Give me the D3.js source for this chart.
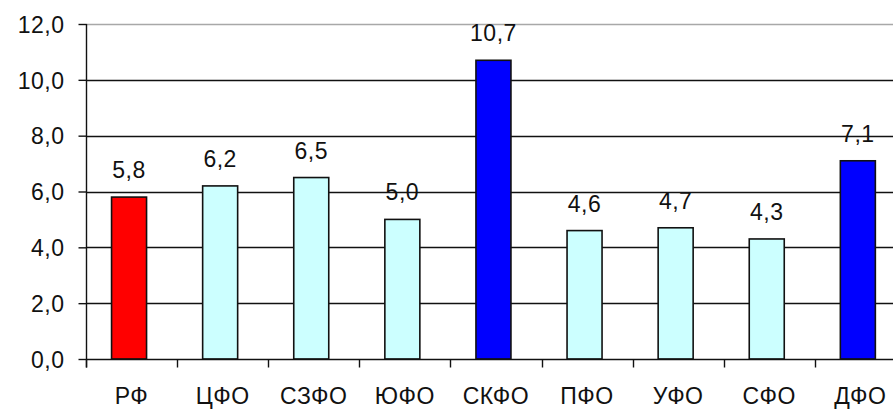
<!DOCTYPE html>
<html>
<head>
<meta charset="utf-8">
<script src="https://cdn.jsdelivr.net/npm/d3@7"></script>
<style>
  html, body { margin: 0; padding: 0; background: #fff; }
  svg { display: block; }
  text { font-family: "Liberation Sans", Arial, sans-serif; fill: #111; }
</style>
</head>
<body>
<script>
const categories = ["РФ", "ЦФО", "СЗФО", "ЮФО", "СКФО", "ПФО", "УФО", "СФО", "ДФО"];
const values = [5.8, 6.2, 6.5, 5.0, 10.7, 4.6, 4.7, 4.3, 7.1];
const barColors = ["#ff0000", "#ccffff", "#ccffff", "#ccffff", "#0000ff", "#ccffff", "#ccffff", "#ccffff", "#0000ff"];
const yTicks = [0, 2, 4, 6, 8, 10, 12];

const W = 893, H = 411;
const margin = { left: 86, top: 24, bottom: 52 };
const plotRight = 86 + 9 * 91.1;

const svg = d3.select("body").append("svg").attr("width", W).attr("height", H);

const x = d3.scaleBand().domain(categories).range([margin.left, plotRight]).padding(0);
const y = d3.scaleLinear().domain([0, 12]).range([H - margin.bottom, margin.top]);

const fmt = v => d3.format(".1f")(v).replace(".", ",");

// gridlines
svg.append("g").selectAll("line").data(yTicks.filter(t => t > 0)).join("line")
  .attr("x1", margin.left).attr("x2", W)
  .attr("y1", d => Math.round(y(d)) + 0.5).attr("y2", d => Math.round(y(d)) + 0.5)
  .attr("stroke", d => d === 12 ? "#a8a8a8" : "#111")
  .attr("stroke-width", 1.4);

// y axis
const yAxis = d3.axisLeft(y).tickValues(yTicks).tickSize(8).tickPadding(14).tickFormat(fmt);
const gy = svg.append("g").attr("transform", `translate(${margin.left + 0.5},0)`).call(yAxis);
gy.select(".domain").remove();
gy.selectAll(".tick line").attr("stroke", "#111").attr("stroke-width", 1.4);
gy.selectAll(".tick text").style("font-size", "23px").attr("fill", "#111").attr("dy", "0.36em").style("letter-spacing", "0.5px");

// bars
const barW = 35;
const barOff = -2.5;
svg.append("g").selectAll("rect").data(categories).join("rect")
  .attr("x", (d) => x(d) + (x.bandwidth() - barW) / 2 + barOff)
  .attr("y", (d, i) => y(values[i]))
  .attr("width", barW)
  .attr("height", (d, i) => y(0) - y(values[i]))
  .attr("fill", (d, i) => barColors[i])
  .attr("stroke", "#111").attr("stroke-width", 1.6);

// x axis
const xAxisScale = d3.scaleBand().domain(categories).range([margin.left, plotRight]);
const gx = svg.append("g").attr("transform", `translate(0,${Math.round(y(0)) + 0.5})`);
gx.append("line").attr("x1", margin.left).attr("x2", W).attr("stroke", "#111").attr("stroke-width", 1.4);
gx.selectAll("line.tk").data(categories).join("line").attr("class", "tk")
  .attr("x1", d => Math.round(x(d)) + 0.5).attr("x2", d => Math.round(x(d)) + 0.5)
  .attr("y1", 0).attr("y2", 8).attr("stroke", "#111").attr("stroke-width", 1.4);
gx.selectAll("text").data(categories).join("text")
  .attr("x", d => x(d) + x.bandwidth() / 2)
  .attr("y", 44)
  .attr("text-anchor", "middle")
  .style("font-size", "23px").style("letter-spacing", "0.5px")
  .text(d => d);

// y axis line
svg.append("line").attr("x1", margin.left + 0.5).attr("x2", margin.left + 0.5)
  .attr("y1", margin.top).attr("y2", Math.round(y(0)) + 8.5)
  .attr("stroke", "#111").attr("stroke-width", 1.4);

// value labels
svg.append("g").selectAll("text").data(categories).join("text")
  .attr("x", d => x(d) + x.bandwidth() / 2 + barOff)
  .attr("y", (d, i) => y(values[i]) - 19)
  .attr("text-anchor", "middle")
  .style("font-size", "23px").style("letter-spacing", "0.5px")
  .text((d, i) => fmt(values[i]));
</script>
</body>
</html>
